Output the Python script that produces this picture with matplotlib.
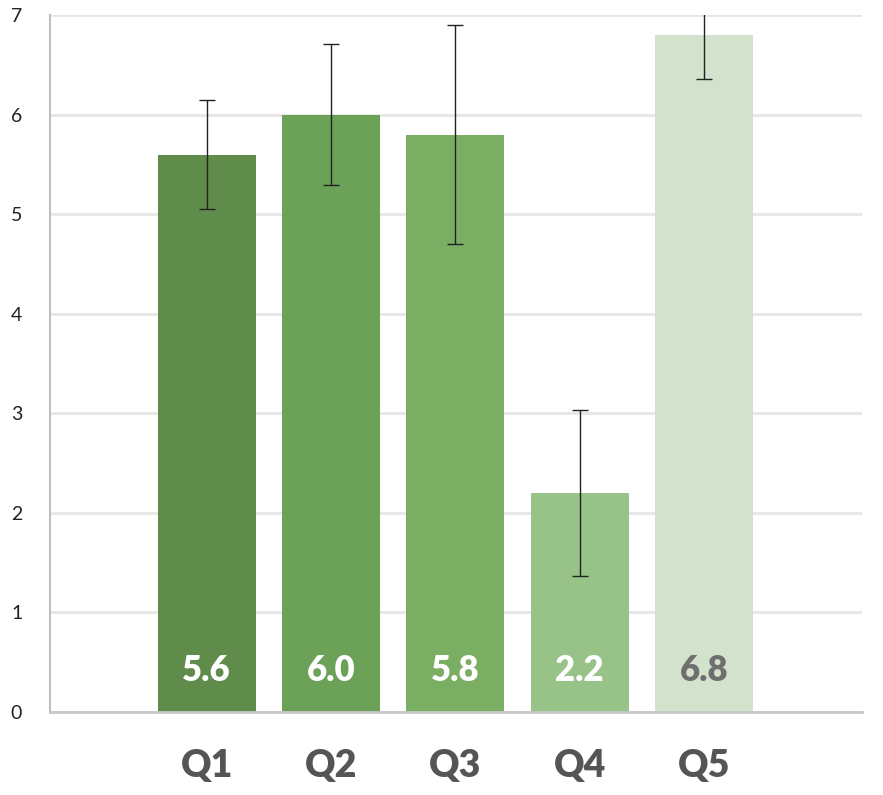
import matplotlib.pyplot as plt
import numpy as np

plt.rcParams['font.family'] = ['Lato', 'DejaVu Sans']

# data
categories = ['Q1', 'Q2', 'Q3', 'Q4', 'Q5']
means = [5.6, 6.0, 5.8, 2.2, 6.8]
errors = [0.55, 0.71, 1.10, 0.83, 0.44]
colors = ['#5f8c4b', '#6ba257', '#7aae62', '#97c389', '#d2e2cd']
label_colors = ['white', 'white', 'white', 'white', '#6f6f6f']

x = np.arange(len(categories))

fig = plt.figure(figsize=(8.83, 7.95), dpi=100)
ax = fig.add_axes([50 / 883, 83 / 795, 812 / 883, 779 / 795 - 83 / 795 + 0.001])

ax.bar(x, means, width=0.79, color=colors, zorder=2)
ax.errorbar(x, means, yerr=errors, fmt='none', ecolor='#222222',
            elinewidth=1.0, capsize=6, capthick=1.0, zorder=3)

for xi, m, lc in zip(x, means, label_colors):
    ax.text(xi, 0.42, f'{m:.1f}', ha='center', va='center',
            fontsize=25, fontweight='heavy', color=lc, zorder=4)

ax.set_xlim(-1.26, 5.27)
ax.set_ylim(0, 7)
ax.set_yticks(range(0, 8))
ax.set_xticks(x)
ax.set_xticklabels(categories, fontsize=27, fontweight='heavy', color='#555555')
ax.tick_params(axis='x', length=0, pad=27)
ax.tick_params(axis='y', length=0, labelsize=14, colors='#222222', pad=20)

ax.grid(axis='y', color='#e6e6e6', linewidth=2, zorder=0)
for s in ['top', 'right']:
    ax.spines[s].set_visible(False)
ax.spines['left'].set_color('#bfbfbf')
ax.spines['bottom'].set_color('#c8c8c8')
ax.spines['left'].set_linewidth(1.5)
ax.spines['bottom'].set_linewidth(2)

fig.savefig('out.png', dpi=100)
